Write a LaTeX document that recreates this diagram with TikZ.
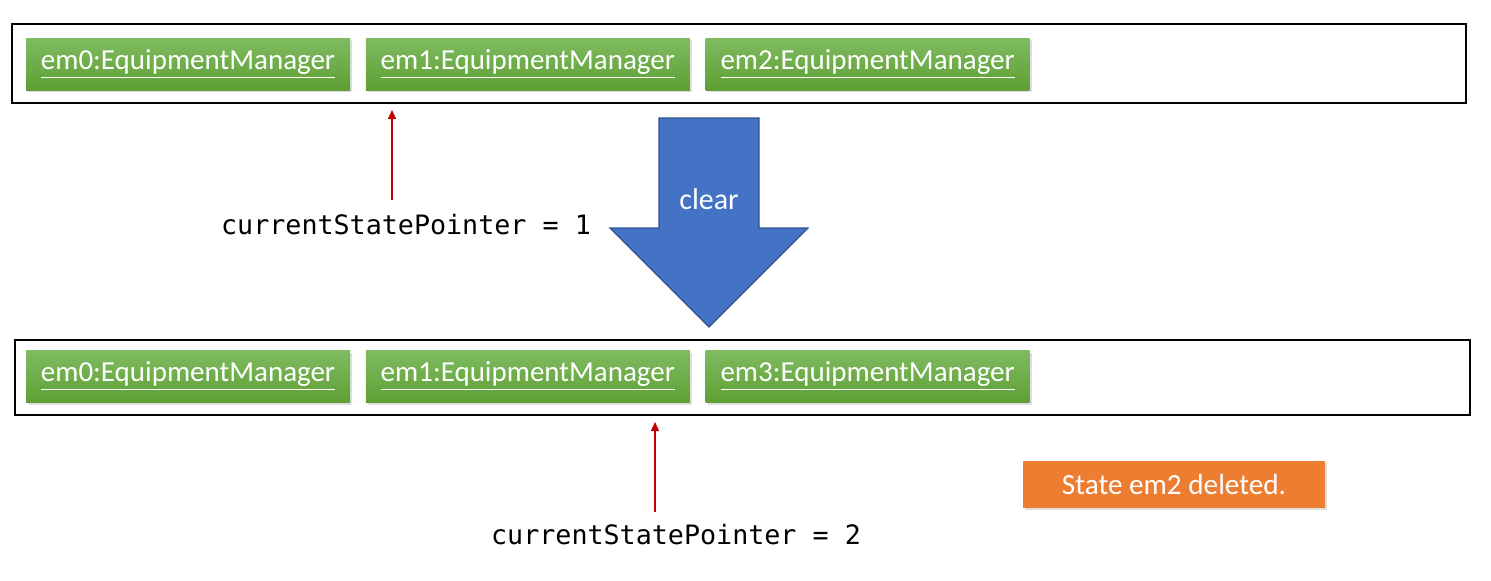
\documentclass[tikz,border=0pt]{standalone}
\usepackage{fontspec}
\setmainfont{Carlito}
\setmonofont{DejaVu Sans Mono}
\usetikzlibrary{positioning,arrows.meta,shadows}
\definecolor{emtop}{HTML}{7FBB61}
\definecolor{embot}{HTML}{5E9F33}
\definecolor{clearblue}{HTML}{4472C4}
\definecolor{clearedge}{HTML}{2F528F}
\definecolor{noteorange}{HTML}{ED7D31}
\definecolor{ptrred}{HTML}{C00000}
\tikzset{node distance=7.5pt,
  em/.style={top color=emtop, bottom color=embot, draw=none,
    minimum width=162pt, minimum height=26pt, inner sep=0pt,
    text=white, font=\fontsize{14.5}{16}\selectfont,
    drop shadow={shadow xshift=1pt, shadow yshift=-1pt, opacity=0.25}},
  holder/.style={draw=black, line width=1pt},
  ptr/.style={draw=ptrred, line width=0.7pt, -{Triangle[width=4pt,length=4.5pt]}},
  ptrtext/.style={font=\ttfamily\fontsize{13.35}{15}\selectfont},
  note/.style={fill=noteorange, minimum width=151pt, minimum height=23.5pt,
    inner sep=0pt, text=white, font=\fontsize{14.6}{16}\selectfont,
    drop shadow={shadow xshift=1pt, shadow yshift=-1pt, opacity=0.25}}}

\begin{document}
\begin{tikzpicture}[x=0.5pt, y=-0.5pt]
  \useasboundingbox (0,0) rectangle (1491,580);
  % state lists
  \draw[holder] (12,24) rectangle (1466,103);
  \node[em] (a0) at (188,64) {\underline{em0:EquipmentManager}};
  \node[em] (a1) [right=of a0] {\underline{em1:EquipmentManager}};
  \node[em] (a2) [right=of a1] {\underline{em2:EquipmentManager}};
  \draw[holder] (15,340) rectangle (1470,415);
  \node[em] (b0) at (188,376.5) {\underline{em0:EquipmentManager}};
  \node[em] (b1) [right=of b0] {\underline{em1:EquipmentManager}};
  \node[em] (b3) [right=of b1] {\underline{em3:EquipmentManager}};
  % pointers
  \node[ptrtext] (pa) at (406,225) {currentStatePointer = 1};
  \coordinate (pas) at (392,200);
  \coordinate (pae) at (392,110);
  \draw[ptr] (pas) -- (pae);
  \node[ptrtext] (pb) at (676,535) {currentStatePointer = 2};
  \coordinate (pbs) at (655,512);
  \coordinate (pbe) at (655,422);
  \draw[ptr] (pbs) -- (pbe);
  % clear arrow
  \filldraw[fill=clearblue, draw=clearedge, line width=0.6pt]
    (659,118) -- (759,118) -- (759,228) -- (808,228) -- (709,327)
    -- (610,228) -- (659,228) -- cycle;
  \node[text=white, font=\fontsize{15}{17}\selectfont] (clr) at (709,199) {clear};
  % note
  \node[note] (del) at (1174,484.5) {State em2 deleted.};
\end{tikzpicture}
\end{document}
